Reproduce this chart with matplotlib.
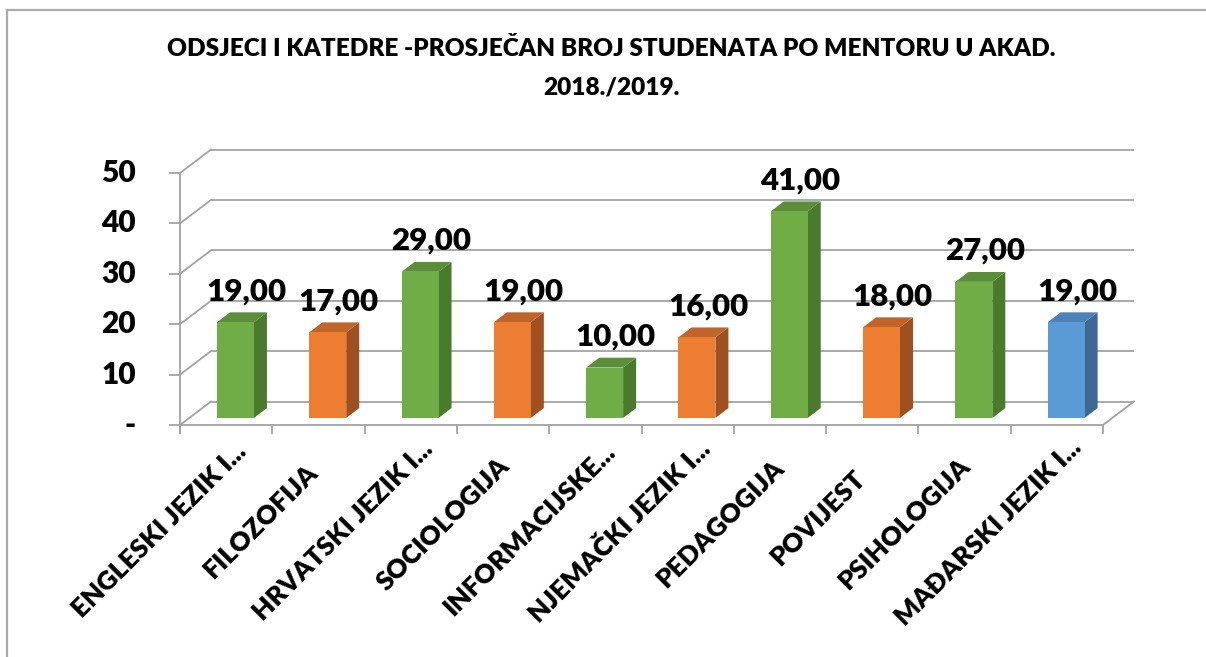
import matplotlib
matplotlib.use('Agg')
import matplotlib.pyplot as plt
from matplotlib.patches import Polygon
import math

# ---------------- data ----------------
categories = ["ENGLESKI JEZIK I...", "FILOZOFIJA", "HRVATSKI JEZIK I...",
              "SOCIOLOGIJA", "INFORMACIJSKE...", "NJEMAČKI JEZIK I...",
              "PEDAGOGIJA", "POVIJEST", "PSIHOLOGIJA", "MAĐARSKI JEZIK I..."]
values = [19, 17, 29, 19, 10, 16, 41, 18, 27, 19]
groups = ["green", "orange", "green", "orange", "green", "orange",
          "green", "orange", "green", "blue"]
y_ticks = [0, 10, 20, 30, 40, 50]
y_tick_labels = ["-", "10", "20", "30", "40", "50"]
title_lines = ["ODSJECI I KATEDRE -PROSJEČAN BROJ STUDENATA PO MENTORU U AKAD.",
               "2018./2019."]

# ---------------- style ----------------
palette = {
    "green": ("#70AD47", "#4A7A2C", "#5A8E38"),
    "orange": ("#ED7D31", "#9E5020", "#C0642A"),
    "blue": ("#5B9BD5", "#3D6891", "#4C82B5"),
}
FONT = "Lato"
WT = 800
W, H = 1206, 657
PX_CAT = 92.3      # px per category
PX_VAL = 5.04      # px per value unit
X0, Y0 = 180, 425  # px of origin (front)
DX = 31 / PX_CAT   # depth offset in category units
DY = 23.5 / PX_VAL # depth offset in value units
GRID = "#A3A3A3"
LW = 1.3

fig = plt.figure(figsize=(W / 100, H / 100), dpi=100)
ax = fig.add_axes([0, 0, 1, 1])
ax.set_xlim(-X0 / PX_CAT, (W - X0) / PX_CAT)
ax.set_ylim((Y0 - H) / PX_VAL, Y0 / PX_VAL)
ax.axis("off")

n = len(categories)
vmax = y_ticks[-1]


def P(x, v, d):
    return (x + d * DX, v + d * DY)


# back wall + side wall gridlines
for t in y_ticks:
    bx0, by0 = P(0, t, 1)
    bx1, by1 = P(n, t, 1)
    ax.plot([bx0, bx1], [by0, by1], color=GRID, lw=LW, zorder=1, solid_capstyle="butt")
    fx, fy = P(0, t, 0)
    ax.plot([fx, bx0], [fy, by0], color=GRID, lw=LW, zorder=1)
    ax.plot([-10 / PX_CAT, 0], [t, t], color=GRID, lw=LW, zorder=1)

# front vertical axis
ax.plot([0, 0], [-8 / PX_VAL, vmax], color=GRID, lw=LW, zorder=1)
# floor front edge and right edge
ax.plot([0, n], [0, 0], color=GRID, lw=LW, zorder=1)
rx, ry = P(n, 0, 1)
ax.plot([n, rx], [0, ry], color=GRID, lw=LW, zorder=1)
for i in range(n + 1):
    ax.plot([i, i], [0, -8 / PX_VAL], color=GRID, lw=LW, zorder=1)

# bars
bw = 0.4
d0, d1 = 0.3, 0.72
for i, (v, g) in enumerate(zip(values, groups)):
    front, side, top = palette[g]
    xl = i + 0.5 - bw / 2
    xr = i + 0.5 + bw / 2
    f = [P(xl, 0, d0), P(xr, 0, d0), P(xr, v, d0), P(xl, v, d0)]
    s = [P(xr, 0, d0), P(xr, 0, d1), P(xr, v, d1), P(xr, v, d0)]
    tp = [P(xl, v, d0), P(xr, v, d0), P(xr, v, d1), P(xl, v, d1)]
    ax.add_patch(Polygon(s, closed=True, fc=side, ec="none", zorder=3))
    ax.add_patch(Polygon(tp, closed=True, fc=top, ec="none", zorder=3))
    ax.add_patch(Polygon(f, closed=True, fc=front, ec="none", zorder=3))
    lx, ly = P(i + 0.5, v, d1)
    ax.text(lx - 0.02, ly + 12 / PX_VAL, f"{v:.2f}".replace(".", ","),
            ha="center", va="baseline", fontsize=22.5, fontweight=WT,
            family=FONT, color="black", zorder=5)

# y tick labels
for t, lab in zip(y_ticks, y_tick_labels):
    ax.text(-44 / PX_CAT, t, lab, ha="right", va="center", fontsize=21.5,
            fontweight=WT, family=FONT, color="black")

# category labels (rotated 45 deg)
renderer = fig.canvas.get_renderer()
K = 0.35
c45 = math.cos(math.radians(45))
for i, lab in enumerate(categories):
    cx_px = X0 + (i + 0.5) * PX_CAT
    tmp = fig.text(0, 0, lab, fontsize=19, fontweight=WT, family=FONT)
    L = tmp.get_window_extent(renderer).width
    tmp.remove()
    bx = cx_px - 36 + K * L * c45
    by = 511 - K * L * c45
    fig.text(bx / W, 1 - by / H, lab, ha="right", va="baseline",
             rotation=45, rotation_mode="anchor", fontsize=19,
             fontweight=WT, family=FONT, color="black")

# title
fig.text(611 / W, 1 - 49 / H, title_lines[0], ha="center", va="center",
         fontsize=17.6, fontweight=WT, family=FONT)
fig.text(611 / W, 1 - 87 / H, title_lines[1], ha="center", va="center",
         fontsize=17.6, fontweight=WT, family=FONT)

# chart border (left and top visible)
ax.plot([7 / PX_CAT - X0 / PX_CAT] * 2, [(Y0 - H) / PX_VAL, (Y0 - 10) / PX_VAL],
        color="#ABABAB", lw=1.6, clip_on=False)
ax.plot([7 / PX_CAT - X0 / PX_CAT, (W - X0) / PX_CAT], [(Y0 - 10) / PX_VAL] * 2,
        color="#ABABAB", lw=1.6, clip_on=False)

fig.savefig("out.png", dpi=100)
